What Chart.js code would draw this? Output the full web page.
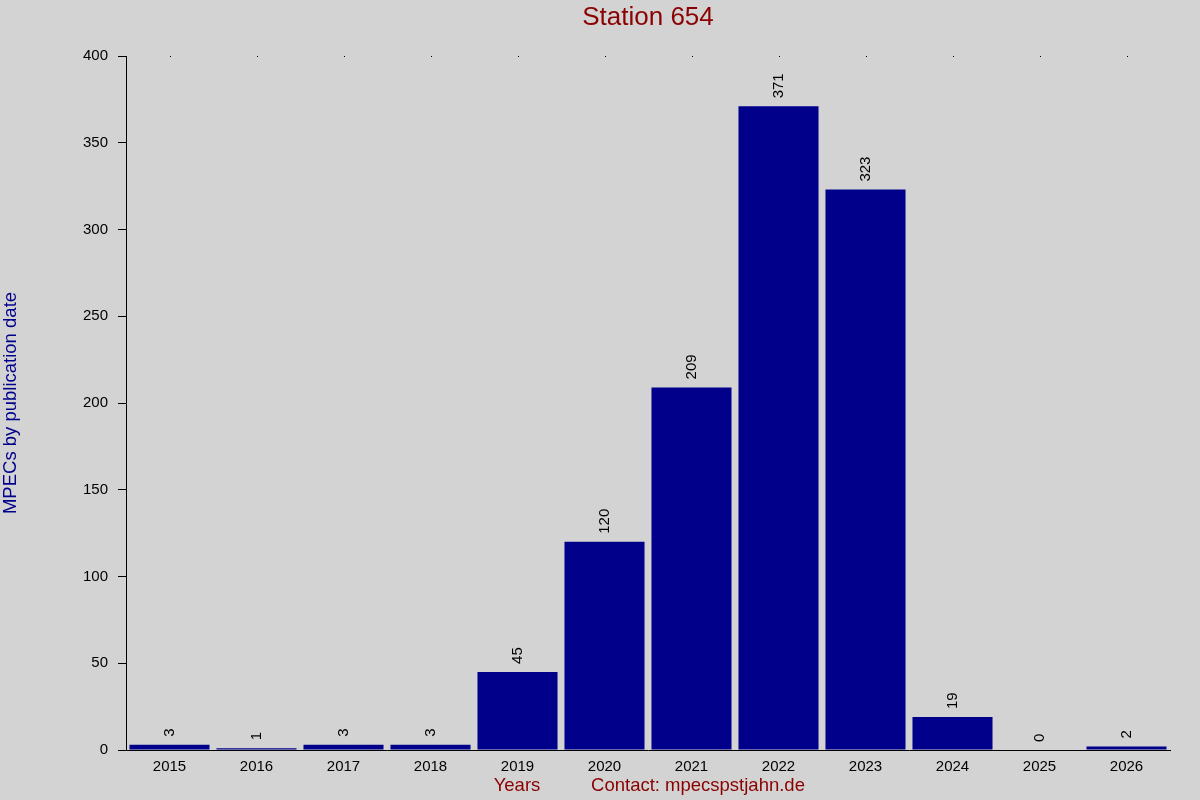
<!DOCTYPE html>
<html lang="en">
<head>
  <meta charset="UTF-8">
  <title>Station 654</title>
  <script src="https://cdn.jsdelivr.net/npm/chart.js"></script>
  <style>
    html, body { margin: 0; padding: 0; background: #d3d3d3; }
    .grafico { width: 1200px; height: 800px; }
  </style>
</head>
<body>
  <div class="grafico">
    <canvas id="graficoMpecs"></canvas>
  </div>

  <script>
    const anos = ["2015", "2016", "2017", "2018", "2019", "2020", "2021", "2022", "2023", "2024", "2025", "2026"];
    const mpecs = [3, 1, 3, 3, 45, 120, 209, 371, 323, 19, 0, 2];
    const yTicks = [0, 50, 100, 150, 200, 250, 300, 350, 400];

    const fonte = "'Liberation Sans', Arial, sans-serif";

    // extras: title, axis titles, top dots, values over the bars
    const extras = {
      id: "extras",
      afterDatasetsDraw(chart) {
        const ctx = chart.ctx;
        const area = chart.chartArea;
        const x = chart.scales.x;
        const meta = chart.getDatasetMeta(0);
        ctx.save();

        ctx.fillStyle = "#000";
        for (let i = 0; i < anos.length; i++) {
          ctx.fillRect(Math.round(x.getPixelForValue(i)), area.top, 1, 1);
        }

        ctx.font = "15px " + fonte;
        ctx.textAlign = "left";
        ctx.textBaseline = "middle";
        meta.data.forEach((bar, i) => {
          ctx.save();
          ctx.translate(bar.x, bar.y - 8);
          ctx.rotate(-Math.PI / 2);
          ctx.fillText(String(mpecs[i]), 0, 0);
          ctx.restore();
        });

        ctx.fillStyle = "#8b0000";
        ctx.font = "26px " + fonte;
        ctx.textAlign = "center";
        ctx.fillText("Station 654", (area.left + area.right) / 2, 18);

        ctx.font = "18.5px " + fonte;
        ctx.fillText("Years", 517, 786);
        ctx.fillText("Contact: mpecspstjahn.de", 698, 786);

        ctx.fillStyle = "#00008b";
        ctx.translate(11, (area.top + area.bottom) / 2);
        ctx.rotate(-Math.PI / 2);
        ctx.fillText("MPECs by publication date", 0, 0);

        ctx.restore();
      }
    };

    const ctx = document.getElementById("graficoMpecs").getContext("2d");
    const myChart = new Chart(ctx, {
      type: "bar",
      data: {
        labels: anos,
        datasets: [{
          label: "MPECs",
          data: mpecs,
          backgroundColor: "#00008b",
          borderWidth: 0,
          barPercentage: 0.92,
          categoryPercentage: 1.0
        }]
      },
      options: {
        responsive: true,
        maintainAspectRatio: false,
        animation: false,
        layout: { padding: { top: 56, right: 30, left: 0, bottom: 0 } },
        plugins: {
          legend: { display: false },
          title: { display: false },
          tooltip: { enabled: false }
        },
        scales: {
          x: {
            afterFit(scale) { scale.height = 50; },
            grid: { display: false },
            border: { color: "#000", width: 1 },
            ticks: { color: "#000", font: { size: 15, family: fonte }, padding: 0, maxRotation: 0 }
          },
          y: {
            min: 0,
            max: 400,
            afterFit(scale) { scale.width = 126; },
            afterBuildTicks(scale) { scale.ticks = yTicks.map(v => ({ value: v })); },
            grid: { drawOnChartArea: false, drawTicks: true, tickLength: 8, color: "#000" },
            border: { color: "#000", width: 1 },
            ticks: { color: "#000", font: { size: 15, family: fonte }, padding: 10 }
          }
        }
      },
      plugins: [extras]
    });
  </script>
</body>
</html>
